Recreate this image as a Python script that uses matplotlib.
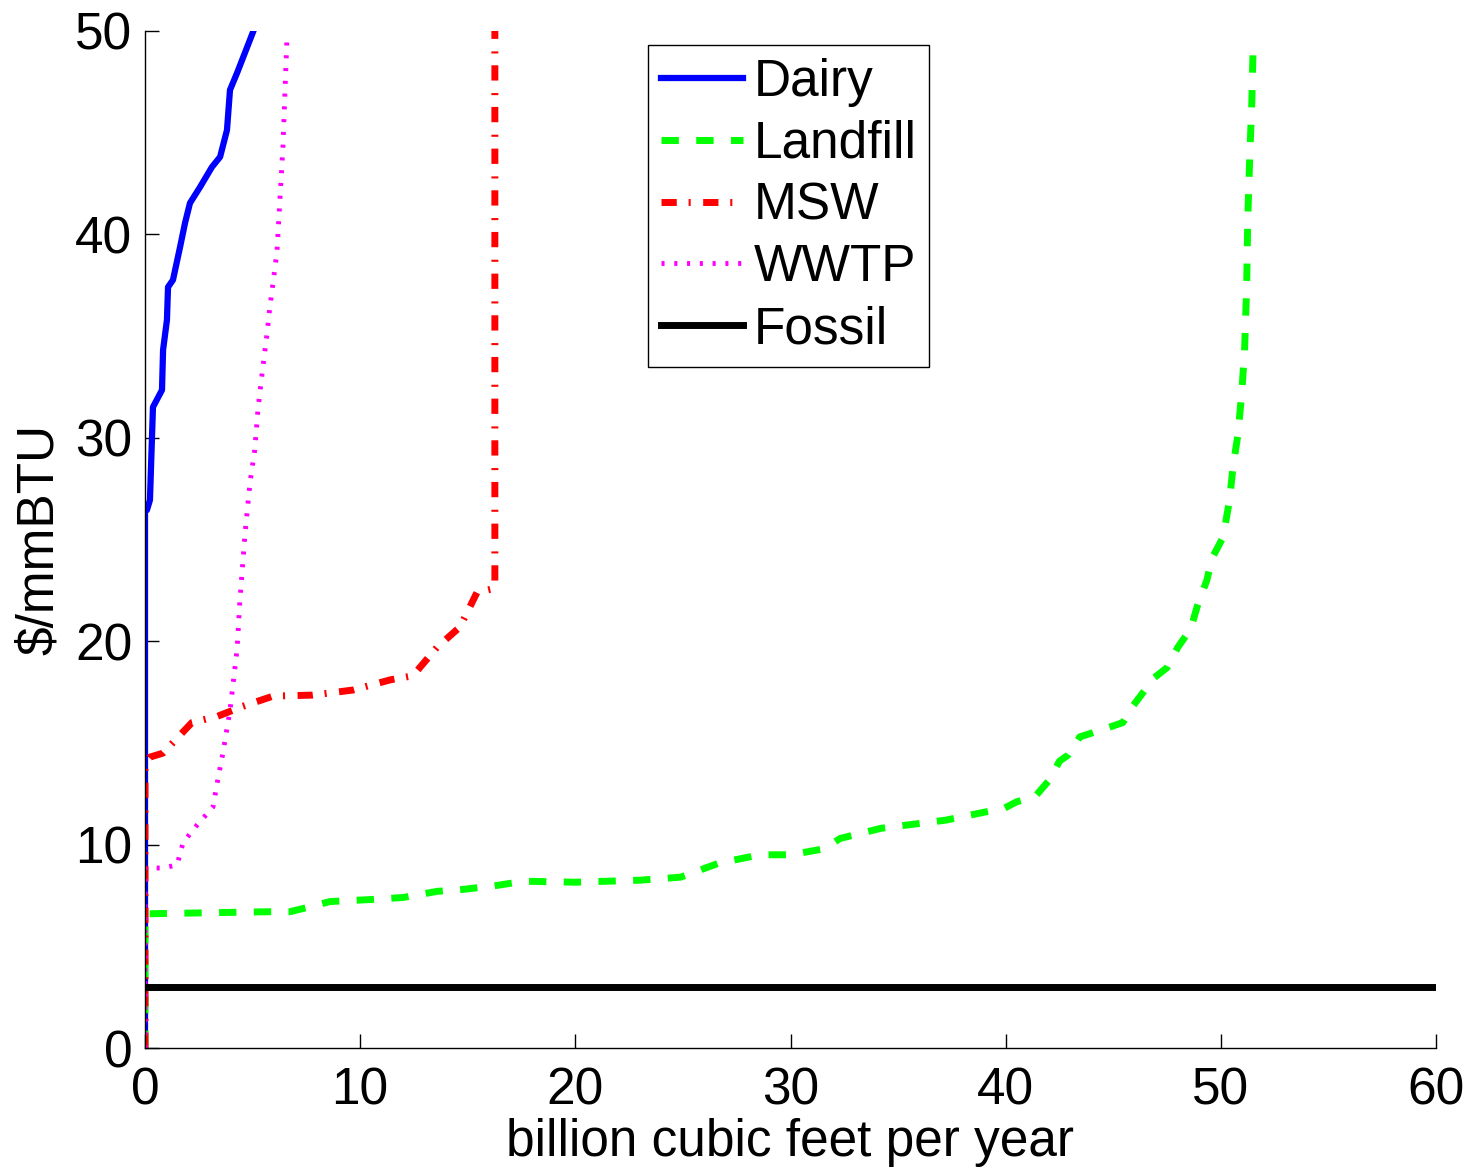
import matplotlib
matplotlib.use("Agg")
import matplotlib.pyplot as plt

plt.rcParams['font.family'] = ['Liberation Sans', 'DejaVu Sans']
plt.rcParams['lines.scale_dashes'] = False

# supply curves
dairy_x = [0, 0, 0.09, 0.23, 0.37, 0.79, 0.84, 1.02, 1.07, 1.30, 1.63, 1.86, 2.09, 2.56, 3.11, 3.49, 3.81, 3.95, 4.28, 5.02]
dairy_y = [0, 26.45, 26.45, 26.94, 31.51, 32.35, 34.32, 35.79, 37.41, 37.76, 39.38, 40.56, 41.54, 42.33, 43.31, 43.81, 45.13, 47.10, 47.94, 49.95]

landfill_x = [0, 0, 0.23, 5.8, 6.74, 7.5, 8.6, 10.5, 12.0, 13.57, 14.8, 16.4, 17.6, 20.0, 23.0, 24.9, 26.7, 28.6, 30.0,
              31.6, 32.3, 34.2, 37.2, 39.96, 40.5, 41.4, 42.05, 42.5, 42.9, 43.45, 44.05, 44.9, 45.45, 45.9, 46.55, 46.9,
              47.5, 48.0, 48.6, 48.9, 49.35, 49.6, 50.1, 50.4, 50.57, 50.8, 50.97, 51.1, 51.2, 51.25, 51.35, 51.44, 51.5]
landfill_y = [0, 6.6, 6.6, 6.7, 6.7, 6.9, 7.2, 7.3, 7.4, 7.7, 7.8, 8.0, 8.2, 8.15, 8.25, 8.4, 9.1, 9.5, 9.5,
              9.8, 10.3, 10.8, 11.2, 11.8, 12.1, 12.4, 13.2, 14.1, 14.4, 15.3, 15.5, 15.8, 16.0, 16.8, 17.7, 18.2,
              18.7, 19.7, 20.6, 21.7, 23.0, 24.1, 25.1, 26.9, 28.6, 30.2, 32.2, 34.2, 37.4, 40.7, 44.0, 46.5, 49.2]

msw_x = [0, 0, 0.23, 0.84, 2.18, 3.35, 4.55, 5.95, 7.8, 9.67, 11.4, 12.45, 13.57, 14.64, 15.43, 16.26, 16.26]
msw_y = [0, 14.0, 14.3, 14.5, 16.0, 16.3, 16.8, 17.3, 17.35, 17.6, 18.1, 18.3, 19.7, 20.7, 22.4, 22.6, 50]

wwtp_x = [0, 0, 0.23, 0.84, 1.49, 1.77, 2.42, 3.16, 3.35, 3.62, 3.95, 4.28, 4.41, 4.65, 4.88, 5.1, 5.25, 5.48, 5.67, 5.8, 6.13, 6.41, 6.6]
wwtp_y = [0, 8.85, 8.85, 8.85, 9.0, 10.1, 10.96, 11.85, 13.0, 14.5, 16.6, 19.6, 22.0, 25.3, 27.8, 29.4, 31.4, 33.5, 35.1, 36.4, 39.1, 44.3, 49.7]

fossil_x = [0, 60]
fossil_y = [3, 3]

xticks = [0, 10, 20, 30, 40, 50, 60]
yticks = [0, 10, 20, 30, 40, 50]

fig = plt.figure(figsize=(14.73, 11.69), dpi=100)
ax = fig.add_axes([145/1473, 1 - 1048/1169, (1436-145)/1473, (1048-31)/1169])

ax.plot(dairy_x, dairy_y, color='#0000ff', lw=4.5, label='Dairy')
ax.plot(landfill_x, landfill_y, color='#00ff00', lw=5, dashes=(12.5, 12.5), label='Landfill')
ax.plot(msw_x, msw_y, color='#ff0000', lw=5, dashes=(11, 8.5, 1.5, 9), label='MSW')
ax.plot(wwtp_x, wwtp_y, color='#ff00ff', lw=3.5, dashes=(2.2, 7), label='WWTP')
ax.plot(fossil_x, fossil_y, color='black', lw=5, label='Fossil')

ax.set_xlim(0, 60)
ax.set_ylim(0, 50)
ax.set_xticks(xticks)
ax.set_yticks(yticks)
ax.spines['top'].set_visible(False)
ax.spines['right'].set_visible(False)
for s in ['left', 'bottom']:
    ax.spines[s].set_linewidth(1.0)
ax.tick_params(direction='in', length=10, width=1.0, labelsize=37)
ax.tick_params(axis='x', pad=13)
ax.tick_params(axis='y', pad=9)

ax.set_xlabel('billion cubic feet per year', fontsize=37, labelpad=2)
ax.set_ylabel('$/mmBTU', fontsize=37, labelpad=8)

leg = ax.legend(loc='upper left', bbox_to_anchor=((648-145)/1291, (1048-45)/1017), borderaxespad=0,
                fontsize=37, handlelength=1.6, handletextpad=0.2, labelspacing=0.25, borderpad=0.25,
                frameon=True, fancybox=False, framealpha=1)
leg.get_frame().set_edgecolor('black')
leg.get_frame().set_linewidth(1.0)

fig.savefig('out.png', dpi=100)
